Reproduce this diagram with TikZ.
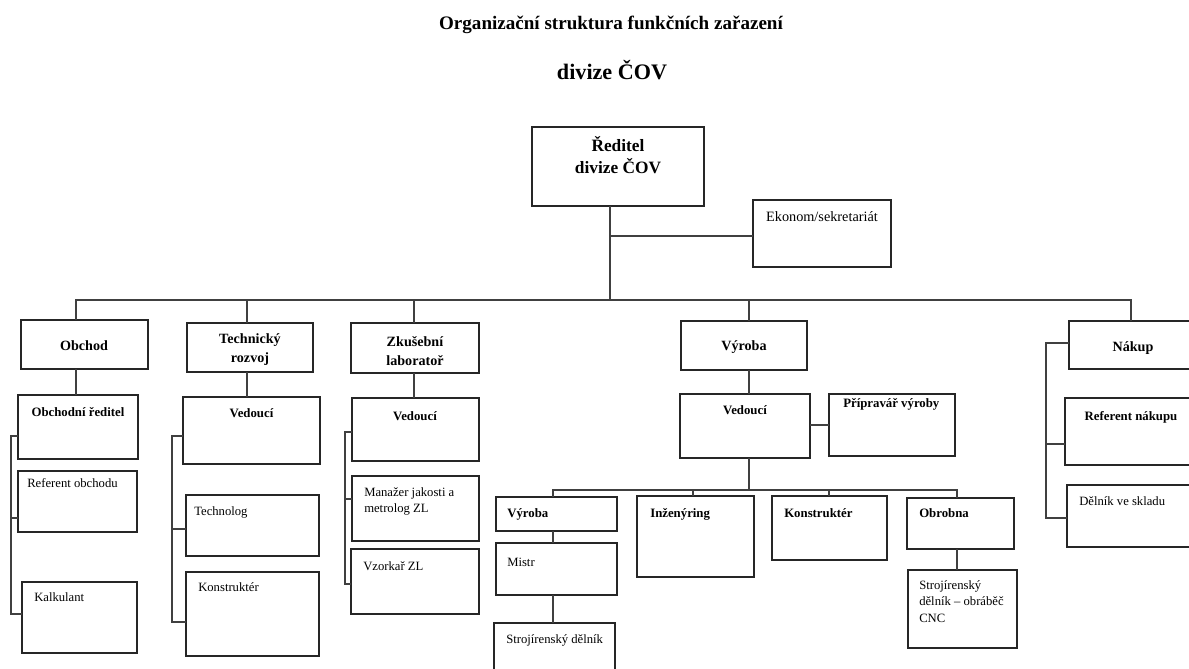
\documentclass[tikz,border=0pt]{standalone}
\usepackage{fontspec}
\setmainfont{Liberation Serif}
\begin{document}
\begin{tikzpicture}[x=0.75pt,y=-0.75pt,
  box/.style={draw=black!85, line width=0.9pt, inner sep=0pt, outer sep=0pt, anchor=north west},
  ln/.style={draw=black!75, line width=0.9pt},
  tb/.style={inner sep=0pt, font=\bfseries\fontsize{9.6}{11.5}\selectfont},
  tr/.style={inner sep=0pt, font=\fontsize{9.5}{11.5}\selectfont, align=left},
  th/.style={inner sep=0pt, font=\bfseries\fontsize{10.6}{13.8}\selectfont, align=center}]
\newcommand\bx[5]{\node[box,minimum width={(#4-#2)*0.75pt},minimum height={(#5-#3)*0.75pt}] (#1) at (#2,#3) {};}
\useasboundingbox (0,0) rectangle (1189,668);

% titles
\node[inner sep=0pt, anchor=base, font=\bfseries\fontsize{14.3}{17}\selectfont] (title) at (611,29) {Organizační struktura funkčních zařazení};
\node[inner sep=0pt, anchor=base, font=\bfseries\fontsize{16.6}{20}\selectfont] (subtitle) at (612,79) {divize ČOV};

% boxes
\bx{red}{532}{127}{704}{206}
\bx{ekon}{753}{200}{891}{267}
\bx{obch}{21}{320}{148}{369}
\bx{tech}{187}{323}{313}{372}
\bx{zkus}{351}{323}{479}{373}
\bx{vyr}{681}{321}{807}{370}
\bx{nak}{1069}{321}{1200}{369}
\bx{obr}{18}{395}{138}{459}
\bx{refo}{18}{471}{137}{532}
\bx{kalk}{22}{582}{137}{653}
\bx{tved}{183}{397}{320}{464}
\bx{tlog}{186}{495}{319}{556}
\bx{tkon}{186}{572}{319}{656}
\bx{zved}{352}{398}{479}{461}
\bx{man}{352}{476}{479}{541}
\bx{vzor}{351}{549}{479}{614}
\bx{vved}{680}{394}{810}{458}
\bx{prip}{829}{394}{955}{456}
\bx{vsub}{496}{497}{617}{531}
\bx{mistr}{496}{543}{617}{595}
\bx{sd}{494}{623}{615}{690}
\bx{inz}{637}{496}{754}{577}
\bx{kons}{772}{496}{887}{560}
\bx{obrb}{907}{498}{1014}{549}
\bx{cnc}{908}{570}{1017}{648}
\bx{refn}{1065}{398}{1200}{465}
\bx{deln}{1067}{485}{1200}{547}

% texts (multi-line nodes: base = baseline of last line)
\node[inner sep=0pt, anchor=base, align=center, font=\bfseries\fontsize{13}{16.5}\selectfont] (tred) at (618,173) {Ředitel\\divize ČOV};
\node[inner sep=0pt, anchor=base, font=\fontsize{10.7}{13}\selectfont] (tekon) at (822,221) {Ekonom/sekretariát};
\node[th, anchor=base] (tobch) at (84,350) {Obchod};
\node[th, anchor=base] (ttech) at (250,362) {Technický\\rozvoj};
\node[th, anchor=base] (tzkus) at (415,365) {Zkušební\\laboratoř};
\node[th, anchor=base] (tvyr) at (744,350) {Výroba};
\node[th, anchor=base] (tnak) at (1133,351) {Nákup};
\node[tb, anchor=base] (tobr) at (78,416) {Obchodní ředitel};
\node[tr, anchor=base west] (trefo) at (27,487) {Referent obchodu};
\node[tr, anchor=base west] (tkalk) at (34,601) {Kalkulant};
\node[tb, anchor=base] (ttved) at (251.5,417) {Vedoucí};
\node[tr, anchor=base west] (ttlog) at (194,515) {Technolog};
\node[tr, anchor=base west] (ttkon) at (198,591) {Konstruktér};
\node[tb, anchor=base] (tzved) at (415,420) {Vedoucí};
\node[tr, anchor=base west, font=\fontsize{9.5}{11.3}\selectfont] (tman) at (364,512) {Manažer jakosti a\\metrolog ZL};
\node[tr, anchor=base west] (tvzor) at (363,570) {Vzorkař ZL};
\node[tb, anchor=base] (tvved) at (745,414) {Vedoucí};
\node[tb, anchor=base west] (tprip) at (843,407) {Přípravář výroby};
\node[tb, anchor=base west] (tvsub) at (507,517) {Výroba};
\node[tr, anchor=base west] (tmistr) at (507,566) {Mistr};
\node[tr, anchor=base west] (tsd) at (506,643) {Strojírenský dělník};
\node[tb, anchor=base west] (tinz) at (650,517) {Inženýring};
\node[tb, anchor=base west] (tkons) at (784,517) {Konstruktér};
\node[tb, anchor=base west] (tobrb) at (919,517) {Obrobna};
\node[tr, anchor=base west, font=\fontsize{9.5}{12.1}\selectfont] (tcnc) at (919,622) {Strojírenský\\dělník – obráběč\\CNC};
\node[tb, anchor=base] (trefn) at (1131,420) {Referent nákupu};
\node[tr, anchor=base west] (tdeln) at (1079,505) {Dělník ve skladu};

% top connectors
\coordinate (j0) at (610,300);
\coordinate (e1) at (610,236);
\draw[ln] (j0 |- red.south) -- (j0);
\draw[ln] (e1) -- (e1 -| ekon.west);
\draw[ln] (76,0 |- obch.north) -- (76,300) -- (1131,300) -- (1131,0 |- nak.north);
\draw[ln] (247,300) -- (247,0 |- tech.north);
\draw[ln] (414,300) -- (414,0 |- zkus.north);
\draw[ln] (749,300) -- (749,0 |- vyr.north);

% level 1 to 2
\draw[ln] (76,0 |- obch.south) -- (76,0 |- obr.north);
\draw[ln] (247,0 |- tech.south) -- (247,0 |- tved.north);
\draw[ln] (414,0 |- zkus.south) -- (414,0 |- zved.north);
\draw[ln] (749,0 |- vyr.south) -- (749,0 |- vved.north);

% brackets
\draw[ln] (obr.west |- 0,436) -- (11,436) -- (11,614) -- (kalk.west |- 0,614);
\draw[ln] (11,518) -- (refo.west |- 0,518);
\draw[ln] (tved.west |- 0,436) -- (172,436) -- (172,622) -- (tkon.west |- 0,622);
\draw[ln] (172,529) -- (tlog.west |- 0,529);
\draw[ln] (zved.west |- 0,432) -- (345,432) -- (345,584) -- (vzor.west |- 0,584);
\draw[ln] (345,499) -- (man.west |- 0,499);
\draw[ln] (nak.west |- 0,343) -- (1046,343) -- (1046,518) -- (deln.west |- 0,518);
\draw[ln] (1046,444) -- (refn.west |- 0,444);

% Vyroba subtree
\draw[ln] (vved.east |- 0,425) -- (prip.west |- 0,425);
\coordinate (j1) at (749,490);
\draw[ln] (j1 |- vved.south) -- (j1);
\draw[ln] (553,0 |- vsub.north) -- (553,490) -- (957,490) -- (957,0 |- obrb.north);
\draw[ln] (693,490) -- (693,0 |- inz.north);
\draw[ln] (829,490) -- (829,0 |- kons.north);
\draw[ln] (553,0 |- vsub.south) -- (553,0 |- mistr.north);
\draw[ln] (553,0 |- mistr.south) -- (553,0 |- sd.north);
\draw[ln] (957,0 |- obrb.south) -- (957,0 |- cnc.north);
\end{tikzpicture}
\end{document}
